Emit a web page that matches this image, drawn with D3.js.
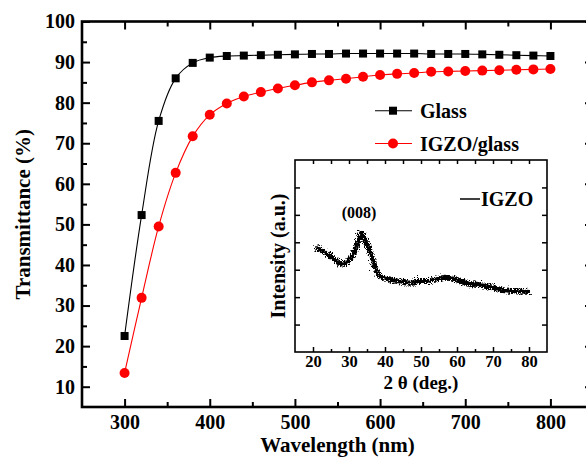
<!DOCTYPE html>
<html>
<head>
<meta charset="utf-8">
<script src="https://cdn.jsdelivr.net/npm/d3@7"></script>
<style>
  body { margin: 0; background: #fff; }
  svg { display: block; }
  text { font-family: "Liberation Serif", "Times New Roman", serif; font-weight: bold; fill: #000; }
</style>
</head>
<body>
<svg width="586" height="457"></svg>
<script>
// transmittance spectra
const wavelengths = [300,320,340,360,380,400,420,440,460,480,500,520,540,560,580,600,620,640,660,680,700,720,740,760,780,800];
const glass = [22.5,52.3,75.5,86.0,89.8,91.1,91.5,91.6,91.7,91.8,91.9,92.0,92.0,92.1,92.1,92.1,92.1,92.1,92.0,92.0,92.0,91.9,91.8,91.7,91.6,91.5];
const igzoGlass = [13.4,31.9,49.5,62.7,71.7,77.0,79.8,81.5,82.6,83.5,84.3,85.0,85.5,85.9,86.4,86.8,87.1,87.3,87.6,87.7,87.8,87.9,88.0,88.1,88.2,88.3];
const mainXTicks = [300,400,500,600,700,800];
const mainXMinor = [350,450,550,650,750];
const mainYTicks = [10,20,30,40,50,60,70,80,90,100];
const mainYMinor = [15,25,35,45,55,65,75,85,95];

// inset XRD trace
const xrdAngle = [20,22,24,25.6,27.4,28.8,30.2,31.1,32.1,32.8,33.9,34.8,35.7,36.6,38,40.4,44.1,46.8,48.8,51.5,56.1,58.9,62.6,67.2,71.9,75.6,79.7];
const xrdIntensity = [3.89,3.77,3.59,3.43,3.28,3.35,3.59,3.83,4.20,4.44,4.14,3.89,3.53,3.16,2.86,2.74,2.65,2.62,2.68,2.68,2.80,2.74,2.58,2.50,2.35,2.31,2.28];
const insetXTicks = [20,30,40,50,60,70,80];
const insetXMinor = [25,35,45,55,65,75];
const insetYTicks = [1,2,3,4,5,6];

const svg = d3.select('svg');

// filter that gives the XRD line its noisy look
const defs = svg.append('defs');
const f = defs.append('filter').attr('id', 'noise')
    .attr('x', '-5%').attr('y', '-30%').attr('width', '110%').attr('height', '160%');
f.append('feTurbulence').attr('type', 'turbulence').attr('baseFrequency', '1.3 0.6')
    .attr('numOctaves', 1).attr('seed', 4).attr('result', 't');
f.append('feDisplacementMap').attr('in', 'SourceGraphic').attr('in2', 't')
    .attr('scale', 7).attr('xChannelSelector', 'R').attr('yChannelSelector', 'G');

const x = d3.scaleLinear().domain([250, 850]).range([82, 593]);
const y = d3.scaleLinear().domain([5, 100]).range([407, 21.5]);

const styleAxis = (g, w) => {
    g.select('.domain').remove();
    g.selectAll('line').attr('stroke-width', w);
    g.selectAll('text').attr('font-size', 20).attr('font-family', null);
};

// main axes
svg.append('g').attr('transform', 'translate(0,407)')
    .call(d3.axisBottom(x).tickValues(mainXTicks).tickSize(-8).tickPadding(8))
    .call(g => styleAxis(g, 2));
svg.append('g').attr('transform', 'translate(0,407)')
    .call(d3.axisBottom(x).tickValues(mainXMinor).tickSize(-5).tickFormat(''))
    .call(g => styleAxis(g, 2));
svg.append('g').attr('transform', 'translate(0,21.5)')
    .call(d3.axisTop(x).tickValues(mainXTicks).tickSize(-8).tickFormat(''))
    .call(g => styleAxis(g, 2));
svg.append('g').attr('transform', 'translate(0,21.5)')
    .call(d3.axisTop(x).tickValues(mainXMinor).tickSize(-5).tickFormat(''))
    .call(g => styleAxis(g, 2));
svg.append('g').attr('transform', 'translate(82,0)')
    .call(d3.axisLeft(y).tickValues(mainYTicks).tickSize(-8).tickPadding(7))
    .call(g => styleAxis(g, 2));
svg.append('g').attr('transform', 'translate(82,0)')
    .call(d3.axisLeft(y).tickValues(mainYMinor).tickSize(-5).tickFormat(''))
    .call(g => styleAxis(g, 2));
svg.append('g').attr('transform', 'translate(593,0)')
    .call(d3.axisRight(y).tickValues(mainYTicks).tickSize(-8).tickFormat(''))
    .call(g => styleAxis(g, 2));
svg.append('g').attr('transform', 'translate(593,0)')
    .call(d3.axisRight(y).tickValues(mainYMinor).tickSize(-5).tickFormat(''))
    .call(g => styleAxis(g, 2));

svg.append('rect')
    .attr('x', x(250)).attr('y', y(100))
    .attr('width', x(850) - x(250)).attr('height', y(5) - y(100))
    .attr('fill', 'none').attr('stroke', '#000').attr('stroke-width', 2.6);

svg.append('text').attr('x', (x(250) + x(850)) / 2).attr('y', 452)
    .attr('text-anchor', 'middle').attr('font-size', 21).text('Wavelength (nm)');
svg.append('text').attr('transform', `translate(30,${(y(5) + y(100)) / 2}) rotate(-90)`)
    .attr('text-anchor', 'middle').attr('font-size', 21).text('Transmittance (%)');

// series
const line = d3.line().x(d => x(d[0])).y(d => y(d[1])).curve(d3.curveCatmullRom.alpha(0.5));
const glassPts = wavelengths.map((w, i) => [w, glass[i]]);
const igzoPts = wavelengths.map((w, i) => [w, igzoGlass[i]]);

svg.append('path').attr('d', line(glassPts)).attr('fill', 'none').attr('stroke', '#000').attr('stroke-width', 1.1);
svg.append('path').attr('d', line(igzoPts)).attr('fill', 'none').attr('stroke', '#f00').attr('stroke-width', 1.1);

svg.selectAll('rect.glass').data(glassPts).enter().append('rect').attr('class', 'glass')
    .attr('x', d => x(d[0]) - 4).attr('y', d => y(d[1]) - 4)
    .attr('width', 8).attr('height', 8).attr('fill', '#000');
svg.selectAll('circle.igzo').data(igzoPts).enter().append('circle').attr('class', 'igzo')
    .attr('cx', d => x(d[0])).attr('cy', d => y(d[1])).attr('r', 5).attr('fill', '#f00');

// legend
const legend = [
    { name: 'Glass', color: '#000', shape: 'square', y: 110.7 },
    { name: 'IGZO/glass', color: '#f00', shape: 'circle', y: 143.5 }
];
legend.forEach(l => {
    svg.append('line').attr('x1', 375).attr('x2', 412).attr('y1', l.y).attr('y2', l.y)
        .attr('stroke', l.color).attr('stroke-width', 1.1);
    if (l.shape === 'square') {
        svg.append('rect').attr('x', 389).attr('y', l.y - 4).attr('width', 8).attr('height', 8).attr('fill', l.color);
    } else {
        svg.append('circle').attr('cx', 393).attr('cy', l.y).attr('r', 5).attr('fill', l.color);
    }
    svg.append('text').attr('x', 420).attr('y', l.y + 7).attr('font-size', 20).text(l.name);
});

// inset
const xi = d3.scaleLinear().domain([15, 85]).range([295, 547]);
const yi = d3.scaleLinear().domain([0, 7]).range([352, 160]);
const styleInset = g => {
    g.select('.domain').remove();
    g.selectAll('line').attr('stroke-width', 1.5);
    g.selectAll('text').attr('font-size', 16.5).attr('font-family', null);
};

svg.append('rect').attr('x', xi(15)).attr('y', yi(7))
    .attr('width', xi(85) - xi(15)).attr('height', yi(0) - yi(7))
    .attr('fill', '#fff');

svg.append('g').attr('transform', `translate(0,${yi(0)})`)
    .call(d3.axisBottom(xi).tickValues(insetXTicks).tickSize(-5).tickPadding(3))
    .call(styleInset);
svg.append('g').attr('transform', `translate(0,${yi(0)})`)
    .call(d3.axisBottom(xi).tickValues(insetXMinor).tickSize(-3).tickFormat(''))
    .call(styleInset);
svg.append('g').attr('transform', `translate(0,${yi(7)})`)
    .call(d3.axisTop(xi).tickValues(insetXTicks.concat(insetXMinor)).tickSize(-4).tickFormat(''))
    .call(styleInset);
svg.append('g').attr('transform', `translate(${xi(15)},0)`)
    .call(d3.axisLeft(yi).tickValues(insetYTicks).tickSize(-5).tickFormat(''))
    .call(styleInset);
svg.append('g').attr('transform', `translate(${xi(85)},0)`)
    .call(d3.axisRight(yi).tickValues(insetYTicks).tickSize(-5).tickFormat(''))
    .call(styleInset);

svg.append('rect').attr('x', xi(15)).attr('y', yi(7))
    .attr('width', xi(85) - xi(15)).attr('height', yi(0) - yi(7))
    .attr('fill', 'none').attr('stroke', '#000').attr('stroke-width', 1.6);

const xrdLine = d3.line().x(d => xi(d[0])).y(d => yi(d[1])).curve(d3.curveCatmullRom.alpha(0.5));
svg.append('path').attr('d', xrdLine(xrdAngle.map((a, i) => [a, xrdIntensity[i]])))
    .attr('fill', 'none').attr('stroke', '#000').attr('stroke-width', 5)
    .attr('filter', 'url(#noise)');

svg.append('text').attr('x', xi(32.8)).attr('y', 218).attr('text-anchor', 'middle')
    .attr('font-size', 16).text('(008)');
svg.append('line').attr('x1', 460).attr('x2', 480).attr('y1', 199).attr('y2', 199)
    .attr('stroke', '#000').attr('stroke-width', 1.5);
svg.append('text').attr('x', 481).attr('y', 206).attr('font-size', 20).text('IGZO');

svg.append('text').attr('x', (xi(15) + xi(85)) / 2).attr('y', 389)
    .attr('text-anchor', 'middle').attr('font-size', 19).text('2 \u03B8 (deg.)');
svg.append('text').attr('transform', `translate(285,${(yi(0) + yi(7)) / 2}) rotate(-90)`)
    .attr('text-anchor', 'middle').attr('font-size', 20).text('Intensity (a.u.)');
</script>
</body>
</html>
